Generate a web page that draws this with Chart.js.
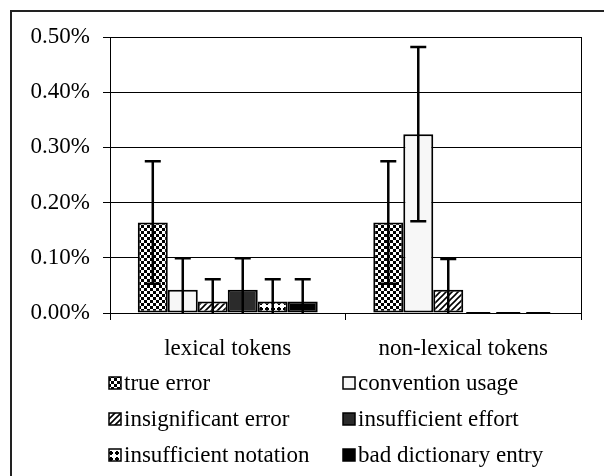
<!DOCTYPE html>
<html>
<head>
<meta charset="utf-8">
<script src="https://cdn.jsdelivr.net/npm/chart.js@4"></script>
<style>
  html, body { margin: 0; padding: 0; background: #fff; overflow: hidden; }
  #wrap { position: relative; width: 604px; height: 476px; }
  #frame { position: absolute; left: 10px; top: 10px; width: 620px; height: 500px; border: 2px solid #222; box-sizing: border-box; }
  canvas { position: absolute; left: 0; top: 0; }
</style>
</head>
<body>
<div id="wrap">
  <div id="frame"></div>
  <canvas id="chart" width="604" height="476"></canvas>
</div>
<script>
// values in percent
const categories = ['lexical tokens', 'non-lexical tokens'];
const trueError = [0.164, 0.164];
const trueErrorErr = [0.111, 0.111];
const conventionUsage = [0.042, 0.324];
const conventionUsageErr = [0.057, 0.158];
const insignificantError = [0.021, 0.042];
const insignificantErrorErr = [0.040, 0.056];
const insufficientEffort = [0.042, 0];
const insufficientEffortErr = [0.057, 0];
const insufficientNotation = [0.021, 0];
const insufficientNotationErr = [0.040, 0];
const badDictionaryEntry = [0.021, 0];
const badDictionaryEntryErr = [0.040, 0];
const yTicks = [0, 0.1, 0.2, 0.3, 0.4, 0.5];

function makePattern(size, draw) {
    const c = document.createElement('canvas');
    c.width = size; c.height = size;
    const g = c.getContext('2d');
    g.fillStyle = '#fff';
    g.fillRect(0, 0, size, size);
    g.fillStyle = '#000';
    g.strokeStyle = '#000';
    draw(g);
    return document.getElementById('chart').getContext('2d').createPattern(c, 'repeat');
}

const checker = makePattern(6, g => {
    g.fillRect(0, 0, 3, 3);
    g.fillRect(3, 3, 3, 3);
});
const hatch = makePattern(6, g => {
    g.lineWidth = 1.6;
    g.beginPath();
    g.moveTo(-1, 7); g.lineTo(7, -1);
    g.moveTo(-4, 4); g.lineTo(4, -4);
    g.moveTo(2, 10); g.lineTo(10, 2);
    g.stroke();
});
const crosses = makePattern(6, g => {
    g.fillRect(2, 1, 2, 4);
    g.fillRect(1, 2, 4, 2);
});

const series = [
    { label: 'true error', data: trueError, err: trueErrorErr, fill: checker },
    { label: 'convention usage', data: conventionUsage, err: conventionUsageErr, fill: '#f7f7f7' },
    { label: 'insignificant error', data: insignificantError, err: insignificantErrorErr, fill: hatch },
    { label: 'insufficient effort', data: insufficientEffort, err: insufficientEffortErr, fill: '#2b2b2b' },
    { label: 'insufficient notation', data: insufficientNotation, err: insufficientNotationErr, fill: crosses },
    { label: 'bad dictionary entry', data: badDictionaryEntry, err: badDictionaryEntryErr, fill: '#000' }
];

const errorBars = {
    id: 'errorBars',
    afterDatasetsDraw(chart) {
        const ctx = chart.ctx;
        const area = chart.chartArea;
        const y = chart.scales.y;
        ctx.save();
        ctx.beginPath();
        ctx.rect(area.left, area.top - 5, area.right - area.left, area.bottom - area.top + 5);
        ctx.clip();
        ctx.strokeStyle = '#000';
        ctx.lineWidth = 2.5;
        chart.data.datasets.forEach((ds, i) => {
            chart.getDatasetMeta(i).data.forEach((bar, j) => {
                const e = ds.err[j];
                const v = ds.data[j];
                if (!e) {
                    // zero-height bars show as a short dark stroke on the axis
                    if (!v) {
                        ctx.save();
                        ctx.lineWidth = 2;
                        ctx.beginPath();
                        ctx.moveTo(bar.x - bar.width / 2 + 3, y.getPixelForValue(0));
                        ctx.lineTo(bar.x + bar.width / 2 - 3, y.getPixelForValue(0));
                        ctx.stroke();
                        ctx.restore();
                    }
                    return;
                }
                const top = y.getPixelForValue(v + e);
                const bot = y.getPixelForValue(v - e);
                ctx.beginPath();
                ctx.moveTo(bar.x, top);
                ctx.lineTo(bar.x, bot);
                ctx.moveTo(bar.x - 8, top);
                ctx.lineTo(bar.x + 8, top);
                ctx.moveTo(bar.x - 8, bot);
                ctx.lineTo(bar.x + 8, bot);
                ctx.stroke();
            });
        });
        ctx.restore();
    }
};

const frameAndLegend = {
    id: 'frameAndLegend',
    beforeDatasetsDraw(chart) {
        const ctx = chart.ctx;
        const a = chart.chartArea;
        ctx.save();
        ctx.strokeStyle = '#000';
        ctx.lineWidth = 1;
        ctx.beginPath();
        ctx.moveTo(Math.round(a.right) + 0.5, a.top);
        ctx.lineTo(Math.round(a.right) + 0.5, a.bottom);
        ctx.stroke();
        ctx.restore();
    },
    afterDraw(chart) {
        const ctx = chart.ctx;
        const colX = [109, 343];
        const rowY = [383, 419, 455];
        ctx.save();
        ctx.font = '23px "Liberation Serif", "Times New Roman", serif';
        ctx.textBaseline = 'alphabetic';
        chart.data.datasets.forEach((ds, i) => {
            const x = colX[i % 2];
            const yc = rowY[Math.floor(i / 2)];
            ctx.fillStyle = ds.backgroundColor;
            ctx.fillRect(x, yc - 6, 12, 12);
            ctx.strokeStyle = '#000';
            ctx.lineWidth = 1.5;
            ctx.strokeRect(x, yc - 6, 12, 12);
            ctx.fillStyle = '#000';
            ctx.fillText(ds.label, x + 15, yc + 7);
        });
        ctx.restore();
    }
};

Chart.defaults.font.family = '"Liberation Serif", "Times New Roman", serif';
Chart.defaults.font.size = 23;
Chart.defaults.color = '#000';

new Chart(document.getElementById('chart'), {
    type: 'bar',
    data: {
        labels: categories,
        datasets: series.map(s => ({
            label: s.label,
            data: s.data,
            err: s.err,
            backgroundColor: s.fill,
            borderColor: '#000',
            borderWidth: 2,
            borderSkipped: false,
            categoryPercentage: 0.764,
            barPercentage: 1
        }))
    },
    options: {
        responsive: false,
        animation: false,
        layout: { padding: { left: 10, right: 23, top: 37, bottom: 113 } },
        plugins: {
            legend: { display: false },
            tooltip: { enabled: false }
        },
        scales: {
            x: {
                grid: { offset: true, drawOnChartArea: false, drawTicks: true, tickLength: 7, color: '#000' },
                border: { display: true, color: '#000', width: 1 },
                ticks: { padding: 15 },
                afterFit(s) { s.height = 50; }
            },
            y: {
                min: 0,
                max: 0.5,
                afterBuildTicks(s) { s.ticks = yTicks.map(v => ({ value: v })); },
                grid: { color: '#000', tickLength: 7, drawTicks: true },
                border: { display: true, color: '#000', width: 1 },
                ticks: { padding: 13, callback: v => v.toFixed(2) + '%' },
                afterFit(s) { s.width = 100; }
            }
        }
    },
    plugins: [errorBars, frameAndLegend]
});
</script>
</body>
</html>
